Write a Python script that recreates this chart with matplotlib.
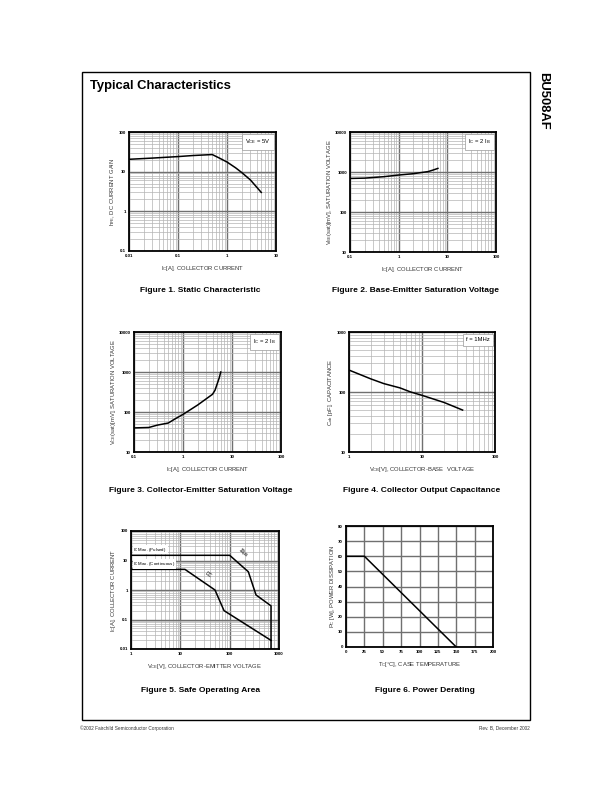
import numpy as np
import matplotlib
matplotlib.use("Agg")
import matplotlib.pyplot as plt
from matplotlib.patches import Rectangle
from matplotlib.ticker import LogLocator, NullFormatter

plt.rcParams['font.family'] = ['Liberation Sans', 'DejaVu Sans']
plt.rcParams['mathtext.default'] = 'regular'

W, H = 612, 792

# ==============================
# DATA
# ==============================

# Figure 1 - static characteristic
f1_ic = [0.01, 0.03, 0.1, 0.2, 0.5, 0.7, 1, 1.5, 2, 3, 5]
f1_hfe = [20.5, 22, 24, 25.5, 27, 22, 17.5, 12.5, 9.5, 6.2, 3.0]

# Figure 2 - base-emitter saturation voltage
f2_ic = [0.1, 0.2, 0.5, 1, 2, 4, 5, 6.4]
f2_vbe = [690, 703, 764, 840, 907, 1023, 1110, 1230]

# Figure 3 - collector-emitter saturation voltage
f3_ic = [0.1, 0.2, 0.3, 0.5, 0.7, 1, 2, 3, 4, 4.5, 5, 5.5, 5.9]
f3_vce = [40, 41, 47, 53, 68, 87, 150, 215, 277, 350, 510, 720, 1000]

# Figure 4 - collector output capacitance
f4_vcb = [1, 2, 3, 5, 7, 10, 20, 36]
f4_cob = [232, 165, 138, 117, 100, 88, 67, 50]

# Figure 5 - safe operating area
f5_pulse_v = [1, 100, 239, 342, 689, 689]
f5_pulse_i = [15, 15, 4.15, 0.68, 0.29, 0.01]
f5_dc_v = [1, 12.4, 50.4, 76.8, 689]
f5_dc_i = [5, 5, 1.0, 0.2, 0.0196]

# Figure 6 - power derating
f6_tc = [0, 25, 150]
f6_pc = [60, 60, 0]


def box(l, t, r, b):
    return [l / W, 1 - b / H, (r - l) / W, (b - t) / H]


def style(ax, logx=True, logy=True):
    if logx:
        ax.set_xscale('log')
        ax.xaxis.set_minor_locator(LogLocator(base=10, subs=np.arange(2, 10), numticks=100))
        ax.xaxis.set_minor_formatter(NullFormatter())
    if logy:
        ax.set_yscale('log')
        ax.yaxis.set_minor_locator(LogLocator(base=10, subs=np.arange(2, 10), numticks=100))
        ax.yaxis.set_minor_formatter(NullFormatter())
    ax.grid(which='minor', color='#b4b4b4', lw=0.5)
    ax.grid(which='major', color='#707070', lw=1.0)
    ax.set_axisbelow(True)
    ax.tick_params(which='both', length=0, labelsize=3.2, pad=2.2)
    for s in ax.spines.values():
        s.set_linewidth(1.3)


def ticks(ax, xt, yt):
    ax.set_xticks(xt, [f'{v:g}' for v in xt], fontweight='bold')
    ax.set_yticks(yt, [f'{v:g}' for v in yt], fontweight='bold')


def labels(ax, xl, yl, xpad=4.5, ypad=1.0):
    ax.set_xlabel(xl, fontsize=4.2, color='#333333', labelpad=xpad)
    ax.set_ylabel(yl, fontsize=4.2, color='#333333', labelpad=ypad)


def note(ax, txt, x=0.965, y=0.955):
    ax.text(x, y, txt, transform=ax.transAxes, ha='right', va='top', fontsize=4.2,
            bbox=dict(boxstyle='square,pad=0.6', fc='white', ec='#999999', lw=0.5), zorder=5)


def caption(x, y, txt):
    fig.text(x / W, 1 - y / H, txt, ha='center', va='center', fontsize=6.0, fontweight='bold')


fig = plt.figure(figsize=(6.12, 7.92), dpi=100)

# page frame, title, side label, footer
fig.patches.append(Rectangle((82 / W, 1 - 720 / H), (530 - 82) / W, (720 - 72) / H,
                             transform=fig.transFigure, fill=False, ec='black', lw=1.0))
fig.text(90 / W, 1 - 86 / H, 'Typical Characteristics', fontsize=9.4, fontweight='bold',
         ha='left', va='center')
fig.text(543 / W, 1 - 72 / H, 'BU508AF', fontsize=9.4, fontweight='bold', rotation=-90,
         ha='center', va='top')
fig.text(80 / W, 1 - 728 / H, '©2002 Fairchild Semiconductor Corporation', fontsize=3.4,
         ha='left', va='center', color='#333333')
fig.text(530 / W, 1 - 728 / H, 'Rev. B, December 2002', fontsize=3.4,
         ha='right', va='center', color='#333333')

# Figure 1
ax1 = fig.add_axes(box(129, 132, 276, 251))
style(ax1)
ax1.plot(f1_ic, f1_hfe, color='black', lw=1.1)
ax1.set_xlim(0.01, 10)
ax1.set_ylim(0.1, 100)
ticks(ax1, [0.01, 0.1, 1, 10], [0.1, 1, 10, 100])
labels(ax1, r'I$_C$[A], COLLECTOR CURRENT', r'h$_{FE}$, DC CURRENT GAIN')
note(ax1, r'V$_{CE}$ = 5V')
caption(200, 291, 'Figure 1. Static Characteristic')

# Figure 2
ax2 = fig.add_axes(box(350, 132, 496, 252))
style(ax2)
ax2.plot(f2_ic, f2_vbe, color='black', lw=1.1)
ax2.set_xlim(0.1, 100)
ax2.set_ylim(10, 10000)
ticks(ax2, [0.1, 1, 10, 100], [10, 100, 1000, 10000])
labels(ax2, r'I$_C$[A], COLLECTOR CURRENT', r'V$_{BE}$(sat)[mV], SATURATION VOLTAGE')
note(ax2, r'I$_C$ = 2 I$_B$')
caption(416, 291, 'Figure 2. Base-Emitter Saturation Voltage')

# Figure 3
ax3 = fig.add_axes(box(134, 332, 281, 452))
style(ax3)
ax3.plot(f3_ic, f3_vce, color='black', lw=1.1)
ax3.set_xlim(0.1, 100)
ax3.set_ylim(10, 10000)
ticks(ax3, [0.1, 1, 10, 100], [10, 100, 1000, 10000])
labels(ax3, r'I$_C$[A], COLLECTOR CURRENT', r'V$_{CE}$(sat)[mV], SATURATION VOLTAGE')
note(ax3, r'I$_C$ = 2 I$_B$')
caption(201, 491, 'Figure 3. Collector-Emitter Saturation Voltage')

# Figure 4
ax4 = fig.add_axes(box(349, 332, 495, 452))
style(ax4)
ax4.plot(f4_vcb, f4_cob, color='black', lw=1.1)
ax4.set_xlim(1, 100)
ax4.set_ylim(10, 1000)
ticks(ax4, [1, 10, 100], [10, 100, 1000])
labels(ax4, r'V$_{CB}$[V], COLLECTOR-BASE  VOLTAGE', r'C$_{ob}$ [pF], CAPACITANCE')
note(ax4, 'f = 1MHz')
caption(422, 491, 'Figure 4. Collector Output Capacitance')

# Figure 5
ax5 = fig.add_axes(box(131, 531, 279, 649))
style(ax5)
ax5.plot(f5_pulse_v, f5_pulse_i, color='black', lw=1.1)
ax5.plot(f5_dc_v, f5_dc_i, color='black', lw=1.1)
ax5.set_xlim(1, 1000)
ax5.set_ylim(0.01, 100)
ticks(ax5, [1, 10, 100, 1000], [0.01, 0.1, 1, 10, 100])
labels(ax5, r'V$_{CE}$[V], COLLECTOR-EMITTER VOLTAGE', r'I$_C$[A], COLLECTOR CURRENT')
ax5.text(1.12, 17, r'I$_C$ Max. (Pulsed)', fontsize=3.2, ha='left', va='bottom',
         bbox=dict(boxstyle='square,pad=0.15', fc='white', ec='none'), zorder=5)
ax5.text(1.12, 5.6, r'I$_C$ Max. (Continuous)', fontsize=3.2, ha='left', va='bottom',
         bbox=dict(boxstyle='square,pad=0.15', fc='white', ec='none'), zorder=5)
ax5.text(185, 18, '10μs', fontsize=3.4, rotation=-42, ha='center', va='center', zorder=5)
ax5.text(36, 3.2, 'DC', fontsize=3.4, rotation=-35, ha='center', va='center', zorder=5)
caption(201, 690, 'Figure 5. Safe Operating Area')

# Figure 6
ax6 = fig.add_axes(box(346, 526, 493, 647))
style(ax6, logx=False, logy=False)
ax6.plot(f6_tc, f6_pc, color='black', lw=1.1)
ax6.set_xlim(0, 200)
ax6.set_ylim(0, 80)
ticks(ax6, list(range(0, 201, 25)), list(range(0, 81, 10)))
labels(ax6, r'T$_C$[°C], CASE TEMPERATURE', r'P$_C$ [W], POWER DISSIPATION')
caption(425, 690, 'Figure 6. Power Derating')

fig.savefig('out.png', dpi=100)
